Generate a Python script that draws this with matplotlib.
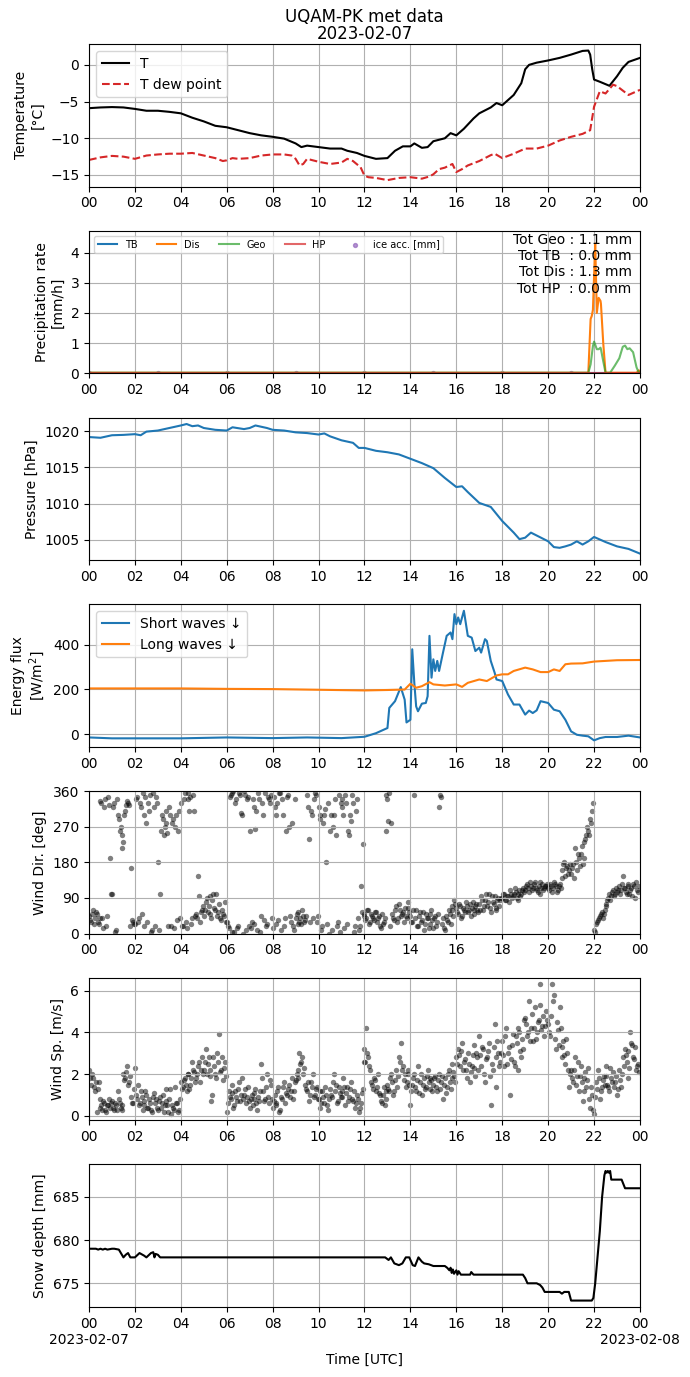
import numpy as np
import matplotlib
matplotlib.use("Agg")
import matplotlib.pyplot as plt

# ---------------- data ----------------
temp_t = [0, 0.5, 1, 1.5, 2, 2.5, 3, 3.5, 4, 4.5, 5, 5.5, 6, 6.5, 7, 7.5, 8, 8.5, 9, 9.25, 9.5, 10, 10.5, 11, 11.25, 11.67, 12, 12.5, 13, 13.33, 13.67, 14, 14.17, 14.5, 14.75, 15, 15.5, 15.75, 16, 16.33, 16.75, 17, 17.5, 17.75, 18, 18.5, 18.83, 19, 19.17, 19.5, 20, 20.5, 21, 21.5, 21.75, 21.83, 21.92, 22, 22.25, 22.67, 23, 23.25, 23.5, 24]
temp_T = [-5.9, -5.8, -5.75, -5.8, -6.0, -6.25, -6.25, -6.4, -6.6, -7.2, -7.7, -8.3, -8.5, -8.9, -9.3, -9.6, -9.8, -10.05, -10.7, -11.2, -11.0, -11.2, -11.4, -11.4, -11.7, -12.0, -12.4, -12.8, -12.7, -11.7, -11.1, -11.1, -10.7, -11.3, -11.2, -10.4, -10.0, -9.3, -9.6, -8.7, -7.3, -6.6, -5.8, -5.2, -5.5, -4.1, -2.5, -0.6, 0.0, 0.3, 0.6, 0.95, 1.4, 1.9, 1.95, 1.4, -0.6, -2.0, -2.3, -2.85, -1.55, -0.4, 0.4, 0.95]

dew_t = [0, 0.5, 1, 1.5, 2, 2.5, 3, 3.5, 4, 4.5, 5, 5.5, 5.83, 6, 6.25, 6.5, 7, 7.5, 8, 8.5, 8.83, 9, 9.17, 9.33, 9.5, 10, 10.5, 11, 11.25, 11.5, 11.83, 12, 12.17, 12.5, 13, 13.5, 14, 14.5, 14.83, 15, 15.25, 15.5, 15.83, 16, 16.25, 16.5, 17, 17.5, 17.67, 18, 18.5, 19, 19.5, 20, 20.5, 21, 21.5, 21.83, 22, 22.25, 22.5, 22.83, 23, 23.5, 24]
dew_T = [-12.95, -12.6, -12.4, -12.5, -12.8, -12.35, -12.2, -12.1, -12.1, -12.0, -12.35, -12.7, -13.1, -13.0, -12.7, -12.8, -12.7, -12.35, -12.2, -12.2, -12.35, -12.8, -13.7, -13.5, -12.8, -13.2, -13.5, -13.3, -12.8, -13.1, -13.95, -15.1, -15.3, -15.4, -15.7, -15.4, -15.3, -15.5, -15.2, -14.9, -14.2, -14.0, -13.5, -14.6, -14.2, -13.7, -13.1, -12.3, -12.1, -12.7, -12.1, -11.4, -11.4, -11.0, -10.3, -9.8, -9.4, -8.9, -5.7, -3.6, -3.9, -2.7, -2.9, -4.1, -3.4]

prec_t = [0, 21.75, 21.85, 21.9, 21.95, 22.0, 22.05, 22.12, 22.2, 22.28, 22.3, 22.4, 22.5, 22.7, 22.9, 23.1, 23.25, 23.35, 23.45, 23.55, 23.7, 23.85, 23.95, 24]
prec_dis = [0.02, 0.02, 1.8, 1.9, 2.1, 3.2, 4.3, 2.0, 2.5, 2.4, 2.3, 1.0, 0.02, 0.02, 0.02, 0.02, 0.02, 0.02, 0.02, 0.02, 0.02, 0.02, 0.1, 0.05]
prec_geo = [0.02, 0.02, 0.3, 0.6, 0.9, 1.05, 0.95, 0.8, 0.8, 0.85, 0.8, 0.4, 0.02, 0.02, 0.25, 0.5, 0.88, 0.92, 0.8, 0.83, 0.7, 0.2, 0.02, 0.02]
prec_tb = [0.0] * 24
prec_hp = [0.0] * 24
ice_t = [0, 3, 6, 9, 12, 15, 18, 21, 24]
ice_acc = [0, 0, 0, 0, 0, 0, 0, 0, 0]
totals_text = "Tot Geo : 1.1 mm\nTot TB  : 0.0 mm\nTot Dis : 1.3 mm\nTot HP  : 0.0 mm"

pres_t = [0, 0.5, 1, 1.5, 2, 2.25, 2.5, 3, 3.5, 4, 4.25, 4.5, 4.75, 5, 5.5, 6, 6.25, 6.75, 7, 7.25, 7.75, 8, 8.5, 9, 9.5, 10, 10.25, 10.5, 11, 11.5, 11.75, 12, 12.5, 13, 13.5, 14, 14.5, 15, 15.5, 16, 16.25, 16.5, 17, 17.5, 18, 18.5, 18.75, 19, 19.25, 19.5, 20, 20.25, 20.5, 20.75, 21, 21.25, 21.5, 21.75, 22, 22.5, 23, 23.5, 24]
pres = [1019.2, 1019.1, 1019.45, 1019.5, 1019.6, 1019.45, 1019.95, 1020.1, 1020.45, 1020.8, 1021.0, 1020.7, 1020.8, 1020.45, 1020.2, 1020.1, 1020.55, 1020.3, 1020.45, 1020.8, 1020.45, 1020.2, 1020.1, 1019.85, 1019.75, 1019.55, 1019.7, 1019.3, 1018.75, 1018.4, 1017.7, 1017.7, 1017.3, 1017.1, 1016.8, 1016.2, 1015.6, 1014.9, 1013.55, 1012.3, 1012.4, 1011.6, 1010.1, 1009.55, 1007.6, 1006.0, 1005.1, 1005.3, 1006.0, 1005.6, 1004.8, 1004.0, 1003.9, 1004.1, 1004.35, 1004.8, 1004.35, 1004.8, 1005.4, 1004.7, 1004.1, 1003.75, 1003.1]

sw_t = [0, 1, 2, 4, 6, 8, 9.5, 11, 12, 12.5, 13, 13.08, 13.33, 13.58, 13.75, 13.83, 14, 14.08, 14.17, 14.25, 14.33, 14.5, 14.67, 14.75, 14.83, 14.92, 15, 15.08, 15.17, 15.25, 15.42, 15.58, 15.75, 15.83, 15.92, 16, 16.08, 16.17, 16.33, 16.5, 16.67, 16.83, 17, 17.08, 17.25, 17.33, 17.5, 17.67, 17.75, 18, 18.25, 18.5, 18.75, 19, 19.17, 19.33, 19.5, 19.67, 20, 20.25, 20.5, 20.75, 21, 21.25, 21.5, 21.75, 22, 22.25, 22.5, 23, 23.5, 24]
sw = [-15, -19, -19, -19, -15, -18, -15, -18, -12, 4, 27, 117, 147, 210, 154, 52, 64, 379, 229, 124, 102, 136, 139, 169, 439, 252, 334, 282, 327, 282, 364, 439, 454, 424, 536, 491, 521, 491, 551, 439, 431, 371, 386, 364, 424, 416, 327, 274, 244, 237, 177, 132, 132, 87, 105, 94, 106, 147, 139, 109, 102, 64, 12, -3, -7, -10, -28, -18, -13, -13, -7, -15]
lw_t = [0, 2, 4, 6, 8, 10, 12, 13, 13.75, 14, 14.25, 14.5, 14.83, 15, 15.5, 16, 16.25, 16.5, 17, 17.33, 17.75, 18, 18.25, 18.5, 19, 19.33, 19.67, 20, 20.25, 20.5, 20.75, 21, 21.5, 22, 22.5, 23, 24]
lw = [204, 204, 204, 202, 201, 198, 195, 197, 199, 225, 207, 214, 232, 222, 217, 222, 211, 229, 244, 237, 262, 267, 267, 282, 297, 289, 277, 277, 289, 282, 312, 315, 316, 324, 327, 330, 331]

# wind, 5-minute samples (set A at :00, set B at :02.5), one row per hour
wdir_rows = [
    [45, 30, 60, 40, 50, 25, 335, 40, 320, 20, 345, 190],
    [100, 330, 10, 300, 260, 215, 230, 310, 335, 325, 165, 30],
    [25, 345, 40, 320, 355, 20, 280, 330, 350, 10, 320, 345],
    [180, 100, 300, 250, 280, 255, 320, 20, 290, 270, 35, 310],
    [330, 20, 355, 15, 340, 345, 40, 310, 50, 145, 30, 60],
    [45, 80, 55, 95, 40, 100, 60, 45, 75, 35, 50, 80],
    [30, 15, 350, 355, 5, 340, 20, 350, 300, 360, 10, 345],
    [260, 30, 320, 265, 10, 340, 45, 300, 355, 25, 340, 350],
    [15, 320, 300, 35, 355, 340, 20, 260, 350, 45, 280, 10],
    [40, 55, 30, 25, 45, 35, 350, 240, 310, 40, 355, 30],
    [320, 290, 20, 300, 180, 330, 260, 10, 300, 250, 30, 5],
    [340, 300, 350, 25, 250, 285, 330, 20, 340, 10, 120, 225],
    [50, 40, 60, 30, 45, 35, 55, 40, 20, 50, 30, 260],
    [340, 355, 280, 40, 60, 30, 75, 45, 55, 65, 40, 80],
    [45, 30, 350, 60, 20, 55, 35, 10, 50, 40, 25, 60],
    [15, 45, 30, 320, 345, 40, 10, 35, 60, 25, 70, 85],
    [65, 50, 70, 45, 60, 80, 55, 75, 65, 50, 70, 60],
    [75, 95, 60, 85, 70, 100, 55, 80, 95, 65, 90, 85],
    [90, 100, 85, 95, 110, 90, 100, 105, 85, 110, 100, 115],
    [110, 125, 105, 120, 115, 130, 110, 120, 100, 125, 115, 120],
    [115, 125, 105, 130, 120, 110, 125, 160, 175, 145, 170, 160],
    [150, 175, 215, 160, 190, 200, 175, 230, 250, 260, 290, 310],
    [10, 25, 35, 45, 55, 50, 70, 85, 100, 95, 110, 100],
    [105, 120, 110, 145, 115, 100, 125, 110, 95, 120, 130, 105],
]
wdir_rows_b = [
    [35, 50, 25, 55, 30, 40, 330, 15, 340, 45, 325, 100],
    [320, 5, 340, 290, 270, 250, 300, 325, 330, 20, 35, 25],
    [340, 30, 330, 50, 300, 345, 30, 310, 5, 355, 20, 330],
    [10, 260, 290, 270, 310, 20, 300, 280, 15, 300, 260, 40],
    [20, 340, 30, 355, 310, 25, 350, 45, 40, 95, 55, 70],
    [60, 90, 70, 50, 85, 65, 100, 55, 40, 60, 45, 30],
    [20, 345, 5, 360, 330, 15, 355, 305, 0, 350, 340, 20],
    [15, 340, 25, 310, 355, 5, 330, 35, 20, 345, 330, 40],
    [345, 25, 330, 355, 10, 300, 40, 345, 270, 30, 20, 340],
    [50, 25, 40, 60, 30, 45, 320, 30, 300, 340, 350, 45],
    [300, 10, 280, 315, 25, 0, 300, 270, 340, 20, 350, 330],
    [320, 15, 330, 260, 300, 350, 5, 310, 40, 20, 55, 45],
    [35, 60, 25, 50, 40, 55, 30, 45, 15, 25, 40, 350],
    [285, 20, 50, 35, 70, 40, 60, 50, 30, 45, 65, 55],
    [30, 60, 40, 20, 45, 30, 55, 25, 40, 15, 50, 35],
    [40, 20, 50, 350, 25, 15, 45, 30, 50, 60, 45, 75],
    [55, 75, 40, 65, 55, 70, 60, 45, 80, 60, 75, 55],
    [60, 85, 70, 100, 80, 65, 95, 75, 60, 85, 70, 90],
    [100, 85, 95, 80, 100, 95, 115, 90, 100, 95, 110, 105],
    [120, 115, 130, 110, 125, 115, 105, 130, 115, 110, 120, 125],
    [110, 120, 115, 125, 105, 120, 115, 140, 180, 165, 150, 175],
    [165, 140, 180, 200, 170, 220, 190, 240, 270, 250, 280, 330],
    [5, 30, 40, 50, 40, 60, 75, 90, 85, 105, 95, 115],
    [110, 100, 125, 115, 105, 120, 100, 115, 125, 90, 110, 120],
]
wspd_rows = [
    [2.2, 1.5, 1.8, 1.2, 0.2, 1.6, 0.4, 0.3, 0.6, 0.2, 0.5, 0.4],
    [0.7, 0.3, 0.5, 1.2, 0.6, 0.3, 2.0, 1.8, 2.4, 1.6, 0.9, 0.6],
    [2.3, 0.8, 0.5, 1.2, 0.3, 0.7, 1.0, 0.4, 0.6, 0.2, 1.1, 0.8],
    [0.3, 0.9, 0.6, 0.2, 1.3, 0.5, 0.8, 0.1, 0.4, 1.4, 0.6, 0.3],
    [1.6, 1.4, 1.8, 1.2, 2.0, 1.5, 2.6, 2.1, 1.8, 2.4, 1.6, 2.8],
    [2.2, 3.2, 2.5, 1.9, 0.7, 2.8, 2.0, 3.0, 3.9, 2.2, 1.7, 2.6],
    [0.2, 1.2, 0.8, 1.5, 0.5, 0.9, 1.3, 0.7, 1.8, 1.0, 0.6, 1.4],
    [0.4, 1.0, 0.8, 1.3, 0.3, 0.7, 2.5, 1.2, 0.8, 2.0, 0.6, 1.5],
    [0.4, 1.0, 0.6, 1.4, 0.3, 0.8, 1.6, 1.1, 1.3, 0.9, 1.8, 1.2],
    [1.7, 2.2, 3.0, 2.6, 2.0, 1.5, 1.2, 0.7, 1.6, 2.0, 1.0, 1.4],
    [0.8, 0.4, 1.2, 0.6, 1.0, 0.3, 1.3, 0.9, 2.0, 1.5, 0.7, 1.1],
    [1.2, 1.8, 0.5, 1.4, 0.9, 1.6, 0.7, 0.4, 1.0, 0.2, 0.6, 1.3],
    [3.2, 4.2, 2.8, 2.2, 1.5, 1.8, 1.2, 2.0, 1.0, 0.6, 1.4, 0.8],
    [1.5, 1.2, 2.0, 1.0, 1.7, 1.4, 2.8, 3.5, 2.4, 2.0, 1.6, 2.2],
    [0.5, 1.5, 2.0, 1.2, 2.4, 1.6, 1.0, 1.8, 1.4, 2.2, 1.3, 1.7],
    [1.5, 1.9, 1.2, 2.0, 1.6, 0.8, 1.8, 1.4, 2.2, 1.3, 2.5, 1.9],
    [2.8, 3.2, 2.4, 3.5, 2.6, 2.2, 3.0, 1.6, 2.4, 3.4, 1.9, 2.8],
    [3.8, 2.4, 3.2, 1.6, 2.8, 3.5, 0.5, 2.2, 4.4, 1.4, 3.0, 2.6],
    [3.6, 2.4, 4.2, 3.0, 1.0, 3.4, 2.6, 3.8, 2.2, 4.0, 2.8, 3.2],
    [4.7, 3.8, 5.5, 4.2, 3.6, 5.2, 4.0, 4.6, 6.3, 4.3, 3.8, 5.0],
    [4.4, 3.8, 6.3, 5.8, 3.2, 4.1, 5.2, 2.8, 3.6, 2.5, 3.0, 1.4],
    [2.2, 1.6, 2.8, 1.9, 1.2, 2.4, 0.7, 1.8, 1.4, 2.3, 0.4, 1.0],
    [0.1, 1.6, 2.2, 0.8, 1.4, 1.9, 2.4, 1.5, 1.2, 1.8, 2.1, 1.6],
    [1.0, 2.2, 1.4, 2.8, 3.2, 2.6, 1.8, 4.0, 3.4, 2.7, 2.2, 2.5],
]
wspd_rows_b = [
    [1.8, 2.0, 1.4, 1.6, 1.3, 0.8, 0.5, 0.7, 0.3, 0.5, 0.8, 0.6],
    [0.4, 0.6, 0.3, 0.8, 0.4, 0.5, 1.7, 2.1, 1.5, 1.9, 0.6, 1.3],
    [1.0, 1.5, 0.6, 0.9, 0.5, 1.2, 0.4, 0.8, 0.3, 0.9, 0.6, 0.4],
    [0.7, 0.4, 1.0, 0.5, 0.7, 0.2, 1.3, 0.5, 0.3, 0.6, 0.2, 0.8],
    [1.3, 1.7, 1.5, 2.0, 1.3, 1.8, 2.2, 1.6, 2.0, 2.6, 2.2, 2.0],
    [2.6, 2.0, 2.8, 2.2, 1.0, 2.4, 1.8, 2.6, 2.1, 2.8, 2.3, 1.9],
    [0.6, 0.9, 1.1, 0.4, 1.2, 0.7, 1.6, 1.0, 0.8, 1.3, 0.9, 0.7],
    [0.8, 0.5, 1.1, 0.6, 0.9, 1.2, 1.8, 0.7, 1.4, 0.9, 1.7, 0.8],
    [0.7, 0.5, 1.2, 0.2, 0.9, 1.4, 0.6, 1.0, 1.5, 1.2, 0.8, 1.6],
    [2.0, 1.8, 2.5, 2.8, 2.3, 1.3, 1.6, 1.0, 1.4, 0.9, 1.3, 0.8],
    [1.2, 0.6, 0.9, 1.4, 0.5, 0.8, 1.0, 1.6, 1.2, 0.6, 1.4, 0.9],
    [0.9, 1.4, 1.1, 0.7, 1.3, 0.8, 1.2, 0.6, 0.8, 0.4, 1.1, 2.6],
    [2.6, 3.0, 2.4, 1.6, 1.3, 1.7, 1.4, 1.1, 0.7, 1.0, 0.5, 1.2],
    [1.3, 1.8, 1.6, 1.2, 2.2, 1.9, 2.6, 2.2, 1.7, 1.4, 2.0, 1.5],
    [1.2, 1.8, 1.4, 1.7, 1.1, 2.0, 1.5, 1.3, 1.9, 1.6, 1.8, 1.2],
    [1.8, 1.4, 1.7, 1.3, 1.9, 1.5, 1.1, 2.0, 1.6, 1.8, 2.1, 1.6],
    [2.5, 2.9, 3.1, 2.2, 2.7, 1.8, 2.5, 2.1, 2.9, 2.3, 3.0, 2.2],
    [2.9, 3.3, 2.0, 2.7, 3.1, 1.9, 2.5, 3.3, 2.8, 3.6, 2.4, 3.0],
    [2.9, 3.8, 2.5, 3.3, 2.7, 3.9, 2.4, 3.5, 4.2, 3.1, 3.7, 4.6],
    [4.4, 4.0, 3.6, 4.9, 4.2, 3.7, 4.5, 5.3, 4.1, 4.8, 4.3, 4.6],
    [4.0, 4.8, 5.5, 3.7, 4.5, 3.4, 4.2, 3.3, 2.9, 3.7, 2.2, 2.0],
    [1.8, 2.2, 1.5, 2.6, 1.9, 1.6, 1.2, 2.1, 1.7, 0.8, 1.4, 0.3],
    [0.9, 1.3, 1.8, 1.2, 1.7, 1.5, 1.9, 1.4, 2.3, 1.6, 1.4, 1.9],
    [1.3, 1.7, 2.0, 2.4, 2.9, 3.1, 2.3, 3.5, 2.8, 3.3, 2.4, 2.1],
]

snow_t = [0, 0.3, 0.4, 0.5, 0.6, 0.7, 0.8, 1.0, 1.1, 1.3, 1.5, 1.6, 1.7, 1.8, 2.0, 2.2, 2.4, 2.5, 2.7, 2.8, 2.85, 2.9, 3.0, 3.1, 12.9, 13.05, 13.15, 13.3, 13.5, 13.65, 13.8, 13.95, 14.1, 14.2, 14.35, 14.5, 14.6, 14.8, 15.0, 15.5, 15.6, 15.7, 15.75, 15.8, 15.85, 15.9, 16.0, 16.05, 16.1, 16.2, 16.6, 16.65, 16.75, 18.9, 19.0, 19.1, 19.5, 19.65, 19.75, 19.85, 20.5, 20.6, 20.7, 20.9, 21.0, 21.9, 21.97, 22.05, 22.15, 22.25, 22.35, 22.45, 22.5, 22.55, 22.6, 22.65, 22.7, 22.75, 23.2, 23.35, 24]
snow = [679, 679, 678.9, 679, 678.9, 679, 678.9, 679, 679, 678.9, 678, 678.3, 678.5, 678, 678, 678.5, 678.2, 678, 678.5, 678.6, 678, 678.4, 678.3, 678, 678, 677.7, 678, 677.3, 677.1, 677.3, 678, 678, 677.1, 677.0, 678, 677.5, 677.3, 677.2, 677, 677, 676.8, 676.5, 676.8, 676.2, 676.6, 676.1, 676.5, 676.0, 676.4, 676, 676, 676.3, 676, 676, 675.6, 675, 675, 674.8, 674.5, 674, 674, 673.8, 674, 674, 673, 673, 673.3, 675, 678, 681, 685, 687.5, 688, 687.8, 688, 687.8, 688, 687, 687, 686, 686]

hour_ticks = list(range(0, 25, 2))
hour_labels = ["%02d" % (h % 24) for h in hour_ticks]
bottom_labels = list(hour_labels)
bottom_labels[0] = "00\n2023-02-07"
bottom_labels[-1] = "00\n2023-02-08"

# ---------------- figure ----------------
fig = plt.figure(figsize=(6.9, 13.77), dpi=100)
gs = fig.add_gridspec(7, 1, left=0.129, right=0.9275, top=0.968, bottom=0.0508, hspace=0.31)
axes = [fig.add_subplot(gs[i]) for i in range(7)]

for ax in axes:
    ax.set_xlim(0, 24)
    ax.set_xticks(hour_ticks)
    ax.set_xticklabels(hour_labels)
    ax.grid(True)

# 1 temperature
ax = axes[0]
ax.plot(temp_t, temp_T, color="k", lw=1.5, label="T")
ax.plot(dew_t, dew_T, color="tab:red", ls="--", lw=1.5, label="T dew point")
ax.set_ylabel("Temperature\n[°C]")
ax.set_title("UQAM-PK met data\n2023-02-07", fontsize=12, linespacing=0.9, pad=4)
ax.legend(loc="upper left")

# 2 precipitation
ax = axes[1]
ax.plot(prec_t, prec_tb, color="tab:blue", lw=1.5, label="TB")
ax.plot(prec_t, prec_dis, color="tab:orange", lw=1.5, label="Dis")
ax.plot(prec_t, prec_geo, color="tab:green", lw=1.5, alpha=0.7, label="Geo")
ax.plot(prec_t, prec_hp, color="tab:red", lw=1.5, alpha=0.7, label="HP")
ax.scatter(ice_t, ice_acc, s=8, color="tab:purple", alpha=0.7, label="ice acc. [mm]")
ax.set_ylim(0, 4.72)
ax.set_ylabel("Precipitation rate\n[mm/h]")
ax.legend(loc="upper left", ncol=5, fontsize=7)
ax.text(0.985, 0.985, totals_text, transform=ax.transAxes, ha="right", va="top", fontsize=10)

# 3 pressure
ax = axes[2]
ax.plot(pres_t, pres, color="tab:blue", lw=1.5)
ax.set_ylabel("Pressure [hPa]")

# 4 energy flux
ax = axes[3]
ax.plot(sw_t, sw, color="tab:blue", lw=1.5, label="Short waves \u2193")
ax.plot(lw_t, lw, color="tab:orange", lw=1.5, label="Long waves \u2193")
ax.set_ylabel("Energy flux\n[W/m$^2$]")
ax.legend(loc="upper left")

# 5 wind direction / 6 wind speed
wind_t_a = np.arange(0, 24, 5 / 60.0)
wind_t = np.concatenate([wind_t_a, wind_t_a + 2.5 / 60.0])
wdir = np.concatenate([np.array(r, float) for r in wdir_rows] + [np.array(r, float) for r in wdir_rows_b])
wspd = np.concatenate([np.array(r, float) for r in wspd_rows] + [np.array(r, float) for r in wspd_rows_b])

ax = axes[4]
ax.scatter(wind_t, wdir, s=15, color="k", alpha=0.5, linewidths=0)
ax.set_ylim(0, 360)
ax.set_yticks([0, 90, 180, 270, 360])
ax.set_ylabel("Wind Dir. [deg]")

ax = axes[5]
ax.scatter(wind_t, wspd, s=15, color="k", alpha=0.5, linewidths=0)
ax.set_ylabel("Wind Sp. [m/s]")

# 7 snow depth
ax = axes[6]
ax.plot(snow_t, snow, color="k", lw=1.5)
ax.set_ylabel("Snow depth [mm]")
ax.set_xticklabels(bottom_labels)
ax.set_xlabel("Time [UTC]")

fig.savefig("out.png", dpi=100)
